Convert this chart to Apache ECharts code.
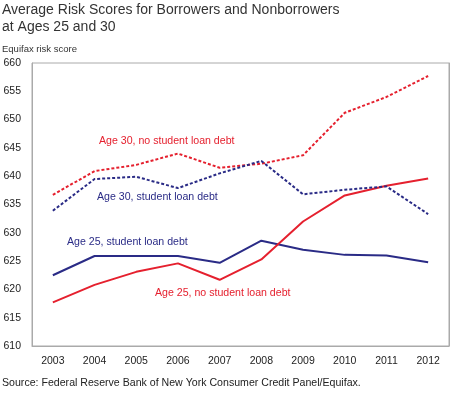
<!DOCTYPE html>
<html><head><meta charset="utf-8">
<script src="https://cdn.jsdelivr.net/npm/echarts@6/dist/echarts.min.js"></script>
<style>html,body{margin:0;padding:0;background:#fff}#c{width:450px;height:393px}</style>
</head><body><div id="c"></div>
<script>
const years = ['2003','2004','2005','2006','2007','2008','2009','2010','2011','2012'];
const age30NoDebt = [636.7, 640.9, 642.0, 644.0, 641.5, 642.2, 643.7, 651.2, 654.0, 657.7];
const age30Debt   = [633.9, 639.5, 639.9, 637.9, 640.5, 642.7, 636.8, 637.6, 638.2, 633.3];
const age25Debt   = [622.5, 625.9, 625.9, 625.9, 624.7, 628.6, 627.0, 626.1, 626.0, 624.8];
const age25NoDebt = [617.7, 620.8, 623.1, 624.6, 621.7, 625.3, 632.0, 636.6, 638.3, 639.6];
const seriesNames = ['Age 30, no student loan debt','Age 30, student loan debt','Age 25, student loan debt','Age 25, no student loan debt'];

const RED = '#e5202e', BLUE = '#2a2b86', GRAY = '#aaaaaa';
const FONT = 'Arial, "Liberation Sans", sans-serif';
const chart = echarts.init(document.getElementById('c'));
function line(name, data, color, dashed) {
  return { name, type: 'line', data, symbol: 'none', smooth: false,
    lineStyle: { color, width: 2, type: dashed ? [3, 2] : 'solid' }, z: dashed ? 3 : 2 };
}
chart.setOption({
  animation: false,
  grid: { left: 32, right: 1, top: 63, bottom: 47, show: true, borderColor: GRAY, borderWidth: 1 },
  xAxis: { type: 'category', data: years, boundaryGap: true,
    axisLine: { lineStyle: { color: GRAY } },
    axisTick: { inside: true, length: 7, lineStyle: { color: GRAY } },
    axisLabel: { color: '#222', fontSize: 10.5, fontFamily: FONT, margin: 10 } },
  yAxis: [
    { type: 'value', min: 610, max: 660, interval: 5, position: 'left',
      splitLine: { show: false }, axisLine: { show: true, lineStyle: { color: GRAY } }, axisTick: { show: false },
      axisLabel: { color: '#222', fontSize: 10.5, fontFamily: FONT, margin: 11 } },
    { type: 'value', min: 610, max: 660, interval: 5, position: 'right',
      splitLine: { show: false }, axisLine: { show: true, lineStyle: { color: GRAY } },
      axisTick: { inside: true, length: 5, lineStyle: { color: GRAY } }, axisLabel: { show: false } }
  ],
  series: [
    line(seriesNames[0], age30NoDebt, RED, true),
    line(seriesNames[1], age30Debt, BLUE, true),
    line(seriesNames[2], age25Debt, BLUE, false),
    line(seriesNames[3], age25NoDebt, RED, false)
  ],
  graphic: [
    { type: 'text', left: 2, top: 2, style: { text: 'Average Risk Scores for Borrowers and Nonborrowers\nat Ages 25 and 30', fill: '#333', font: '14px ' + FONT, lineHeight: 17 } },
    { type: 'text', left: 2, top: 44, style: { text: 'Equifax risk score', fill: '#333', font: '9.5px ' + FONT } },
    { type: 'text', left: 2, top: 378, style: { text: 'Source: Federal Reserve Bank of New York Consumer Credit Panel/Equifax.', fill: '#222', font: '10.6px ' + FONT } },
    { type: 'text', left: 99, top: 136, style: { text: seriesNames[0], fill: RED, font: '10.6px ' + FONT } },
    { type: 'text', left: 97, top: 192, style: { text: seriesNames[1], fill: BLUE, font: '10.6px ' + FONT } },
    { type: 'text', left: 67, top: 237, style: { text: seriesNames[2], fill: BLUE, font: '10.6px ' + FONT } },
    { type: 'text', left: 155, top: 288, style: { text: seriesNames[3], fill: RED, font: '10.6px ' + FONT } }
  ]
});
</script></body></html>
